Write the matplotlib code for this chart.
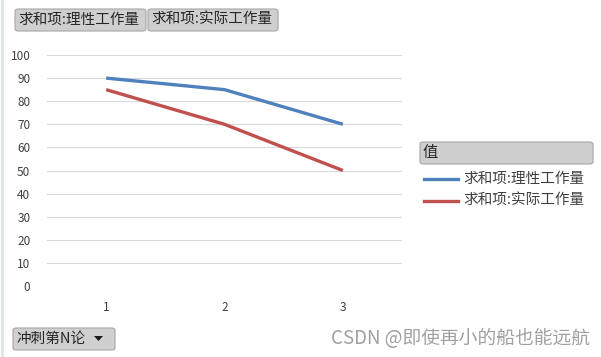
import matplotlib
matplotlib.use("Agg")
import matplotlib.pyplot as plt
from matplotlib.patches import FancyBboxPatch, Polygon
from matplotlib.lines import Line2D

plt.rcParams['font.family'] = ['Noto Sans CJK SC', 'DejaVu Sans']

categories = [1, 2, 3]
theory = [90, 85, 70]
actual = [85, 70, 50]
series_names = ["求和项:理性工作量", "求和项:实际工作量"]
colors = ["#4F81BD", "#C0504D"]
yticks = list(range(0, 101, 10))

W, H = 601, 357
fig = plt.figure(figsize=(W / 100, H / 100), dpi=100)

def fx(px):
    return px / W

def fy(py):
    return 1 - py / H

ax = fig.add_axes([fx(47), fy(286), fx(402) - fx(47), fy(55) - fy(286)])
ax.plot(categories, theory, color=colors[0], lw=2.4, solid_capstyle='butt')
ax.plot(categories, actual, color=colors[1], lw=2.4, solid_capstyle='butt')
ax.set_xlim(0.5, 3.5)
ax.set_ylim(0, 100)
ax.set_yticks(yticks)
ax.set_xticks(categories)
ax.set_xticklabels([str(c) for c in categories])
ax.grid(axis='y', color='#d9d9d9', lw=0.8)
ax.set_axisbelow(True)
for s in ax.spines.values():
    s.set_visible(False)
ax.tick_params(length=0, labelsize=8.5, colors='#404040')
ax.tick_params(axis='y', pad=12)
ax.tick_params(axis='x', pad=11)

def button(x0, y0, x1, y1, text, fontsize=10.5, tx=None):
    p = FancyBboxPatch((fx(x0), fy(y1)), fx(x1) - fx(x0), fy(y0) - fy(y1),
                       boxstyle="round,pad=0,rounding_size=0.006",
                       transform=fig.transFigure, facecolor='#cfcfcf',
                       edgecolor='#a6a6a6', lw=0.8)
    fig.add_artist(p)
    fig.text(fx(tx if tx is not None else x0 + 3), fy((y0 + y1) / 2), text,
             fontsize=fontsize, color='#262626', va='center', ha='left')

button(15, 9, 146, 31, series_names[0])
button(148, 9, 278, 31, series_names[1])
button(420, 142, 593, 164, "值", fontsize=11)
button(13, 328, 115, 350, "冲刺第N论", fontsize=10.5)
tri = Polygon([[fx(94), fy(336)], [fx(103), fy(336)], [fx(98.5), fy(341)]],
              closed=True, transform=fig.transFigure, facecolor='#1a1a1a',
              edgecolor='none')
fig.add_artist(tri)

for i, (name, c) in enumerate(zip(series_names, colors)):
    y = 179 + i * 22
    fig.add_artist(Line2D([fx(424), fx(458)], [fy(y), fy(y)], color=c, lw=2.4,
                          transform=fig.transFigure))
    fig.text(fx(463), fy(y), name, fontsize=10.5, color='#404040',
             va='center', ha='left')

fig.text(fx(590), fy(338), "CSDN @即使再小的船也能远航", fontsize=13.5,
         color='#a0a0a0', ha='right', va='center')

# left frame edge
fig.add_artist(Line2D([fx(2), fx(2)], [0, 1], color='#e0e6e2', lw=2,
                      transform=fig.transFigure))

fig.savefig("out.png", dpi=100)
